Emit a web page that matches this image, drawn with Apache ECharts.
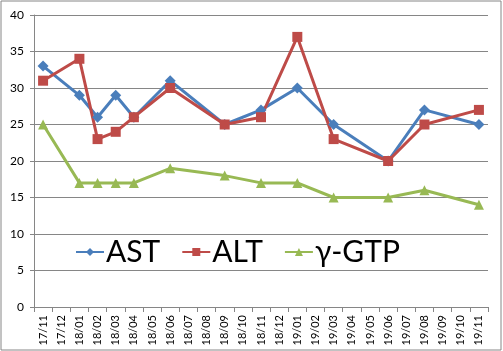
<!DOCTYPE html>
<html><head><meta charset="utf-8">
<script src="https://cdn.jsdelivr.net/npm/echarts@6/dist/echarts.min.js"></script>
<style>html,body{margin:0;padding:0;background:#fff}#c{width:503px;height:351px}</style>
</head><body><div id="c"></div>
<script>
var categories = ['17/11','17/12','18/01','18/02','18/03','18/04','18/05','18/06','18/07','18/08','18/09','18/10','18/11','18/12','19/01','19/02','19/03','19/04','19/05','19/06','19/07','19/08','19/09','19/10','19/11'];
var astValues = [33,null,29,26,29,26,null,31,null,null,25,null,27,null,30,null,25,null,null,20,null,27,null,null,25];
var altValues = [31,null,34,23,24,26,null,30,null,null,25,null,26,null,37,null,23,null,null,20,null,25,null,null,27];
var gtpValues = [25,null,17,17,17,17,null,19,null,null,18,null,17,null,17,null,15,null,null,15,null,16,null,null,14];
var yTicks = [0,5,10,15,20,25,30,35,40];

var font = 'Lato, "Open Sans", sans-serif';
var chart = echarts.init(document.getElementById('c'));
function mk(name, data, color, symbol, size){
  return {name:name, type:'line', data:data, connectNulls:true, symbol:symbol, symbolSize:size,
    showAllSymbol:true, lineStyle:{color:color,width:3}, itemStyle:{color:color}, animation:false};
}
chart.setOption({
  animation:false,
  backgroundColor:'#fff',
  graphic:[{type:'rect', shape:{x:1,y:1,width:500,height:349}, style:{fill:'none',stroke:'#868686',lineWidth:1}, silent:true}],
  grid:{left:34, right:15, top:15, bottom:44},
  legend:{left:70, top:232, itemWidth:28, itemHeight:10, itemGap:21,
    textStyle:{fontFamily:font, fontSize:30, color:'#000', padding:[0,0,0,-3]},
    data:['AST','ALT','γ-GTP']},
  xAxis:{type:'category', data:categories, boundaryGap:true,
    axisLine:{lineStyle:{color:'#868686'}},
    axisTick:{show:true, length:5, lineStyle:{color:'#868686'}},
    axisLabel:{rotate:90, interval:0, fontFamily:font, fontSize:11, color:'#000', margin:8}},
  yAxis:{type:'value', min:yTicks[0], max:yTicks[yTicks.length-1], interval:5,
    axisLine:{show:true, lineStyle:{color:'#868686'}},
    axisTick:{show:true, length:4, lineStyle:{color:'#868686'}},
    splitLine:{lineStyle:{color:'#868686', width:1}},
    axisLabel:{fontFamily:font, fontSize:12, color:'#000', margin:10}},
  series:[
    mk('AST', astValues, '#4A7EBB', 'diamond', 11),
    mk('ALT', altValues, '#BE4B48', 'rect', 10),
    mk('γ-GTP', gtpValues, '#98B954', 'triangle', 10)
  ]
});
</script></body></html>
